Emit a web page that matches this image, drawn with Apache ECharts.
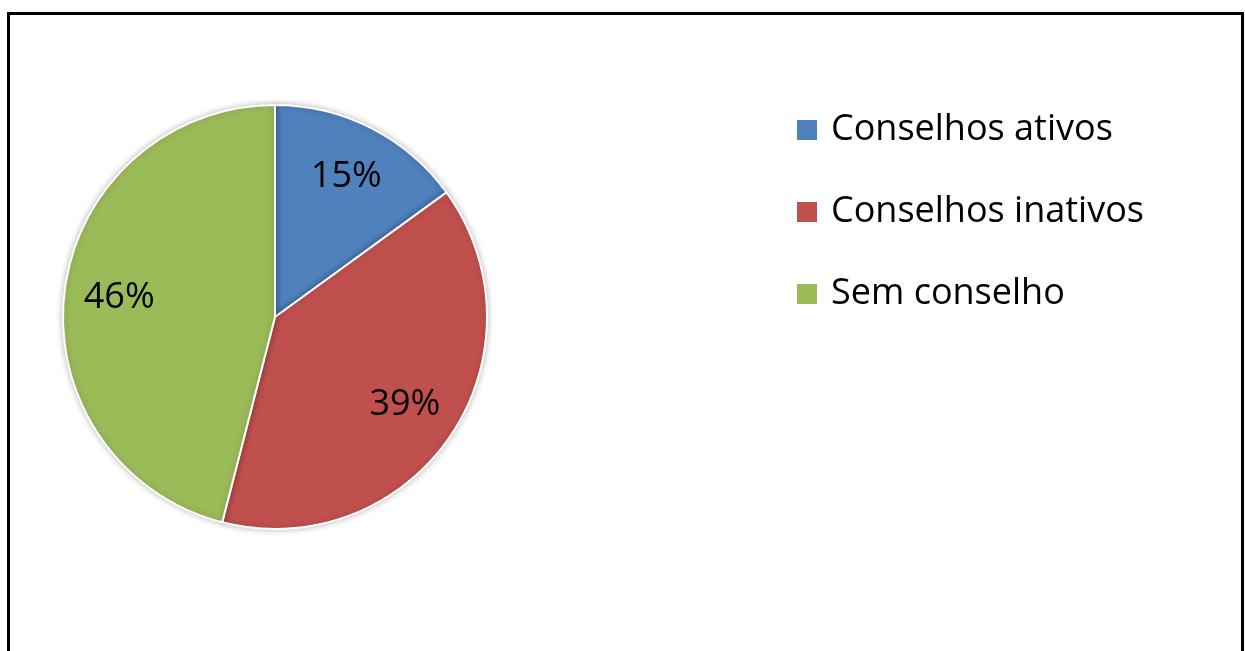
<!DOCTYPE html>
<html>
<head>
<meta charset="utf-8">
<script src="https://cdn.jsdelivr.net/npm/echarts@6/dist/echarts.min.js"></script>
<style>
  html, body { margin: 0; padding: 0; background: #ffffff; }
  #chart { position: absolute; left: 0; top: 0; width: 1245px; height: 651px; }
  #frame {
    position: absolute; left: 7px; top: 12px; width: 1231px; height: 700px;
    border-left: 3px solid #000; border-top: 3px solid #000; border-right: 3px solid #000;
    pointer-events: none;
  }
</style>
</head>
<body>
<div id="chart"></div>
<div id="frame"></div>
<script>
// Situação dos conselhos (percentual)
const categories = ['Conselhos ativos', 'Conselhos inativos', 'Sem conselho'];
const shares = [15, 39, 46];
const colors = ['#4F81BD', '#C0504D', '#9BBB59'];

const slices = categories.map((name, i) => ({
  name: name,
  value: shares[i],
  itemStyle: { color: colors[i] }
}));

const center = [275, 317];
const chart = echarts.init(document.getElementById('chart'), null, { renderer: 'canvas' });

chart.setOption({
  animation: false,
  backgroundColor: '#ffffff',
  legend: {
    orient: 'vertical',
    left: 795,
    top: 112,
    padding: 0,
    itemWidth: 22,
    itemHeight: 22,
    itemGap: 46,
    icon: 'rect',
    data: categories,
    textStyle: {
      fontFamily: 'Open Sans',
      fontSize: 36,
      lineHeight: 36,
      color: '#000000',
      padding: [0, 0, 0, 8]
    }
  },
  series: [
    {
      // slices
      type: 'pie',
      center: center,
      radius: [0, 212],
      startAngle: 90,
      clockwise: true,
      label: { show: false },
      labelLine: { show: false },
      emphasis: { disabled: true },
      itemStyle: {
        borderColor: '#ffffff',
        borderWidth: 2,
        shadowBlur: 6,
        shadowColor: 'rgba(0,0,0,0.25)'
      },
      data: slices
    },
    {
      // percentage labels, placed in an outer ring of the same pie
      type: 'pie',
      center: center,
      radius: [100, 208],
      startAngle: 90,
      clockwise: true,
      silent: true,
      legendHoverLink: false,
      itemStyle: { color: 'rgba(0,0,0,0)', borderWidth: 0 },
      label: {
        show: true,
        position: 'inside',
        formatter: '{d}%',
        fontFamily: 'Open Sans',
        fontSize: 36,
        color: '#000000'
      },
      labelLine: { show: false },
      emphasis: { disabled: true },
      data: categories.map((name, i) => ({ name: name, value: shares[i] }))
    }
  ]
});
</script>
</body>
</html>
